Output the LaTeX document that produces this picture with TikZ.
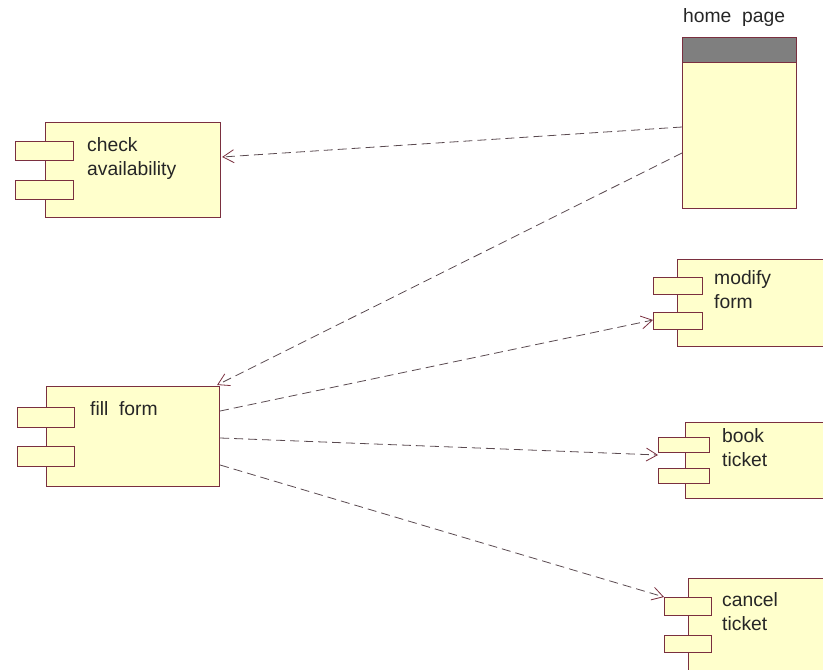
\documentclass[tikz,border=0pt]{standalone}
\usepackage{fontspec}
\setmainfont{Liberation Sans}
\usetikzlibrary{arrows.meta,calc}
\definecolor{compfill}{HTML}{FFFFCC}
\definecolor{compline}{HTML}{7A2F3F}
\definecolor{headgray}{HTML}{7F7F7F}
\definecolor{depline}{HTML}{5A4A50}
\tikzset{
  comp/.style={draw=compline, fill=compfill, line width=1.1pt, inner sep=0pt, anchor=north west},
  port/.style={draw=compline, fill=compfill, line width=1.1pt, inner sep=0pt, anchor=north west},
  lbl/.style={anchor=north west, inner sep=0pt, align=left, text=black!85, font=\fontsize{19.3}{24}\selectfont},
  dep/.style={draw=depline, line width=0.8pt, dash pattern=on 9pt off 5pt,
    -{Straight Barb[length=11pt,width=13pt,line width=0.8pt,color=compline]}},
}
\begin{document}
\begin{tikzpicture}[x=1pt,y=-1pt]
\useasboundingbox (0,0) rectangle (823,670);
\clip (0,0) rectangle (823,670);

% check availability
\node[comp, minimum width=175pt, minimum height=95pt] (checkav) at (45,122) {};
\node[port, minimum width=58pt, minimum height=19pt] (checkp1) at (15,141) {};
\node[port, minimum width=58pt, minimum height=19pt] (checkp2) at (15,180) {};
\node[lbl] (checkt) at (87,137) {check\\availability};

% home page
\node[comp, minimum width=114pt, minimum height=171pt] (home) at (682,37) {};
\node[draw=compline, fill=headgray, line width=1.1pt, inner sep=0pt, anchor=north west,
  minimum width=114pt, minimum height=25pt] (homehead) at (682,37) {};
\node[lbl, anchor=south west] (homet) at (683,27) {home\ \ page};

% fill form
\node[comp, minimum width=173pt, minimum height=100pt] (fill) at (46,386) {};
\node[port, minimum width=57pt, minimum height=20pt] (fillp1) at (17,407) {};
\node[port, minimum width=57pt, minimum height=20pt] (fillp2) at (17,446) {};
\node[lbl] (fillt) at (90,401) {fill\ \ form};

% modify form
\node[comp, minimum width=160pt, minimum height=87pt] (modify) at (677,259) {};
\node[port, minimum width=49pt, minimum height=17pt] (modp1) at (653,277) {};
\node[port, minimum width=49pt, minimum height=17pt] (modp2) at (653,312) {};
\node[lbl] (modt) at (714,270) {modify\\form};

% book ticket
\node[comp, minimum width=150pt, minimum height=76pt] (book) at (685,422) {};
\node[port, minimum width=51pt, minimum height=15pt] (bookp1) at (658,437) {};
\node[port, minimum width=51pt, minimum height=15pt] (bookp2) at (658,468) {};
\node[lbl] (bookt) at (722,428) {book\\ticket};

% cancel ticket
\node[comp, minimum width=150pt, minimum height=110pt] (cancel) at (688,578) {};
\node[port, minimum width=47pt, minimum height=18pt] (canp1) at (664,597) {};
\node[port, minimum width=47pt, minimum height=17pt] (canp2) at (664,635) {};
\node[lbl] (cant) at (722,592) {cancel\\ticket};

% dependencies
\draw[dep] ($(home.north west)+(0,90)$) -- ($(checkav.north east)+(1,35)$);
\draw[dep] ($(home.north west)+(0,116)$) -- ($(fill.north east)+(-3,-1)$);
\draw[dep] ($(fill.north east)+(0,25)$) -- ($(modp2.north west)+(0,8)$);
\draw[dep] ($(fill.north east)+(0,52)$) -- ($(bookp1.north west)+(0,18)$);
\draw[dep] ($(fill.north east)+(0,79)$) -- (canp1.north west);
\end{tikzpicture}
\end{document}
